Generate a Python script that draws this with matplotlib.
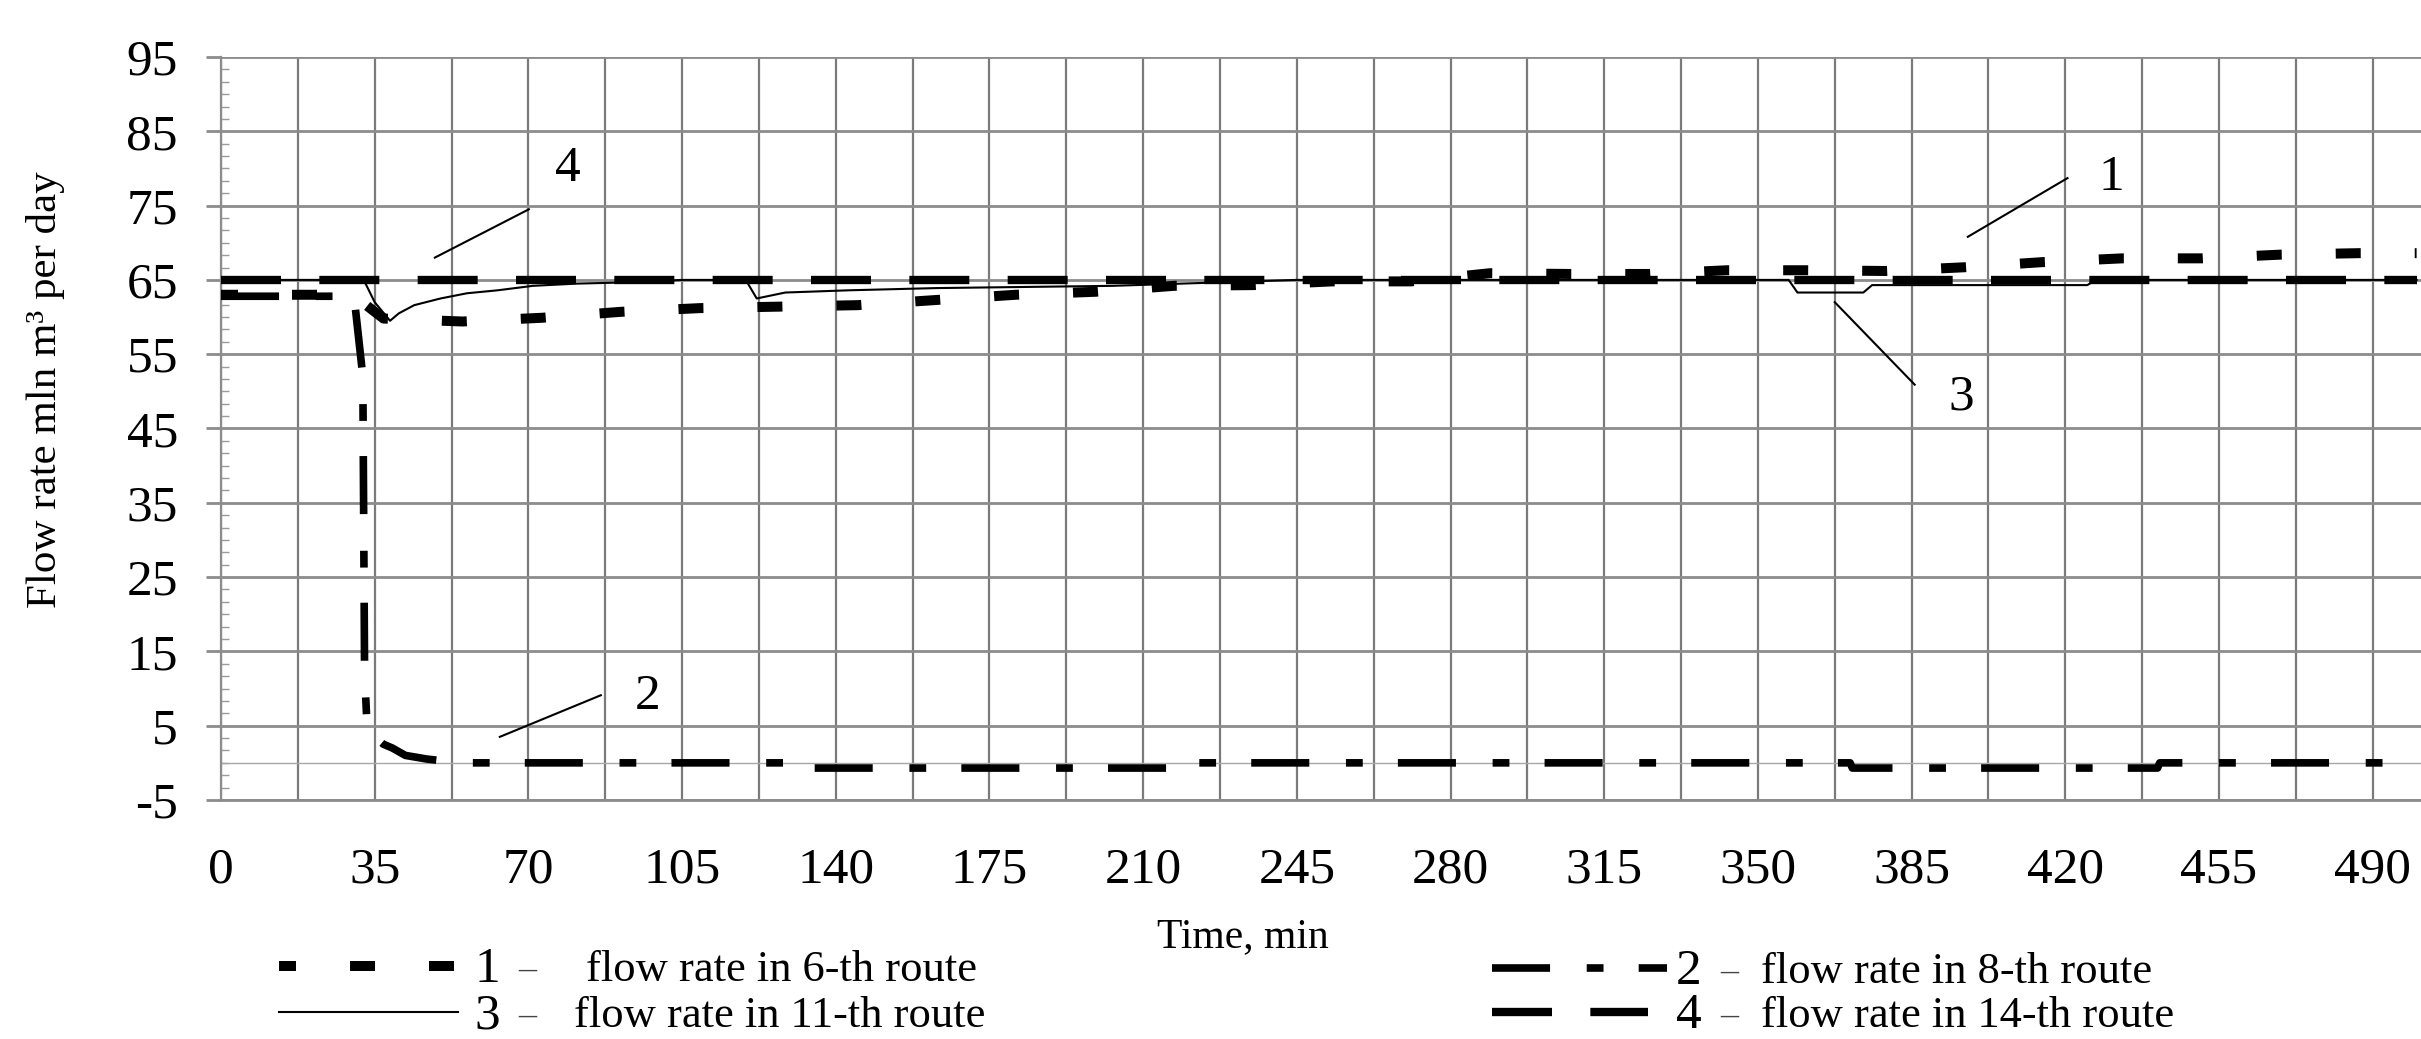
import matplotlib
matplotlib.use("Agg")
import matplotlib.pyplot as plt
from matplotlib.lines import Line2D
from matplotlib.ticker import MultipleLocator

plt.rcParams["font.family"] = ["Liberation Serif", "DejaVu Serif"]
plt.rcParams["axes.unicode_minus"] = False

# time, min / flow rate, mln m3 per day
time_1 = [0, 30, 37, 55, 73, 91, 109, 127, 145, 163, 181, 199, 217, 235, 253,
          271, 289, 307, 325, 343, 361, 379, 397, 415, 433, 451, 469, 487, 500]
flow_1 = [63, 63, 59.8, 59.4, 59.9, 60.7, 61.2, 61.4, 61.6, 62.3, 63.0, 63.4, 64.2, 64.3, 64.8,
          64.8, 65.9, 65.8, 65.8, 66.3, 66.3, 66.2, 66.7, 67.4, 67.9, 67.9, 68.4, 68.6, 68.6]

time_2 = [0, 30.3, 32.3, 32.7, 33.3, 35, 37, 39, 42, 47, 55, 131, 131.5, 216, 216.5,
          371, 371.5, 441, 441.5, 500]
flow_2 = [62.8, 62.8, 52, 12, 4.5, 3.5, 2.5, 2, 1, 0.5, 0, 0, -0.7, -0.7, 0,
          0, -0.7, -0.7, 0, 0]

time_3 = [0, 32.5, 35, 38.5, 40.5, 44, 50, 56, 63, 71, 81, 95, 105, 119.5, 122, 128.5,
          143, 163, 203, 245, 357, 359, 374, 376, 425, 427, 500]
flow_3 = [65, 65, 62, 59.5, 60.5, 61.6, 62.5, 63.2, 63.6, 64.2, 64.5, 64.7, 65, 65, 62.5, 63.3,
          63.6, 63.9, 64.2, 65, 65, 63.3, 63.3, 64.3, 64.3, 65, 65]

time_4 = [0, 500]
flow_4 = [65, 65]

x_ticks = list(range(0, 491, 35))
y_ticks = list(range(-5, 96, 10))

W, H = 2421, 1039


def fx(x):
    return x / W


def fy(y):
    return 1 - y / H


fig = plt.figure(figsize=(W / 100, H / 100), dpi=100)
ax = fig.add_axes([fx(221), fy(800), fx(W - 221), (800 - 57) / H])

style_1 = dict(color="black", lw=7.2, linestyle=(0.8, (2.5, 5.4)))
style_2 = dict(color="black", lw=5.5, linestyle=(0, (7.6, 4.8, 2.2, 4.6)))
style_3 = dict(color="black", lw=1.5, linestyle="-")
style_4 = dict(color="black", lw=6.0, linestyle=(0, (7.2, 4.6)))

ax.axhline(0, color="#a8a8a8", lw=1.0, zorder=1)
ax.plot(time_4, flow_4, zorder=3, **style_4)
ax.plot(time_1, flow_1, zorder=3, **style_1)
ax.plot(time_2, flow_2, zorder=3, **style_2)
ax.plot(time_3, flow_3, zorder=4, **style_3)

ax.set_xlim(0, 501)
ax.set_ylim(-5, 95)
ax.set_xticks(x_ticks)
ax.xaxis.set_minor_locator(MultipleLocator(17.5))
ax.set_yticks(y_ticks)
ax.yaxis.set_minor_locator(MultipleLocator(10 / 6))

ax.grid(axis="y", which="major", color="#8c8c8c", lw=2.0, zorder=0)
ax.grid(axis="x", which="both", color="#7a7a7a", lw=1.6, zorder=0)
ax.set_axisbelow(True)

for side in ("top", "right"):
    ax.spines[side].set_visible(False)
ax.spines["left"].set_color("#8c8c8c")
ax.spines["left"].set_linewidth(1.6)
ax.spines["bottom"].set_color("#8c8c8c")
ax.spines["bottom"].set_linewidth(2.0)

ax.tick_params(axis="x", which="both", length=0, pad=34, labelsize=37)
ax.tick_params(axis="y", which="major", direction="out", length=11, width=2.0,
               color="#8c8c8c", pad=20, labelsize=37)
ax.tick_params(axis="y", which="minor", direction="in", length=6, width=1.0,
               color="#9a9a9a")

# curve numbers with leader lines
notes = [
    ("4", (79, 80), (48.7, 68.0), (70.1, 74.5)),
    ("1", (430.5, 78.8), (397.8, 70.8), (420.5, 78.7)),
    ("3", (396.4, 49.2), (367.5, 62.0), (385.7, 50.9)),
    ("2", (97.2, 8.9), (63.5, 3.5), (86.5, 9.1)),
]
for label, pos, p0, p1 in notes:
    ax.plot([p0[0], p1[0]], [p0[1], p1[1]], color="black", lw=1.5, zorder=5)
    ax.text(pos[0], pos[1], label, fontsize=37, ha="center", va="center", zorder=5)

fig.text(fx(46), fy(390), "Flow rate mln m\u00b3 per day", rotation=90,
         ha="center", va="center", fontsize=31)
fig.text(fx(1243), fy(937), "Time, min", ha="center", va="center", fontsize=30)

# legend drawn below the axes
legend_rows = [
    (style_1, 279, 458, 970, "1", 487, "flow rate in 6-th route", 586),
    (style_3, 279, 458, 1016, "3", 487, "flow rate in 11-th route", 574),
    (style_2, 1492, 1667, 972, "2", 1689, "flow rate in 8-th route", 1761),
    (style_4, 1492, 1648, 1016, "4", 1689, "flow rate in 14-th route", 1761),
]
for style, x0, x1, y, num, xn, text, xt in legend_rows:
    fig.add_artist(Line2D([fx(x0), fx(x1)], [fy(y - 4), fy(y - 4)],
                          transform=fig.transFigure, **style))
    fig.text(fx(xn), fy(y), num, ha="center", va="center", fontsize=37)
    fig.text(fx(xn + 40), fy(y), "\u2013", ha="center", va="center", fontsize=26,
             color="#444444")
    fig.text(fx(xt), fy(y), text, ha="left", va="center", fontsize=32)

fig.savefig("out.png", dpi=100)
